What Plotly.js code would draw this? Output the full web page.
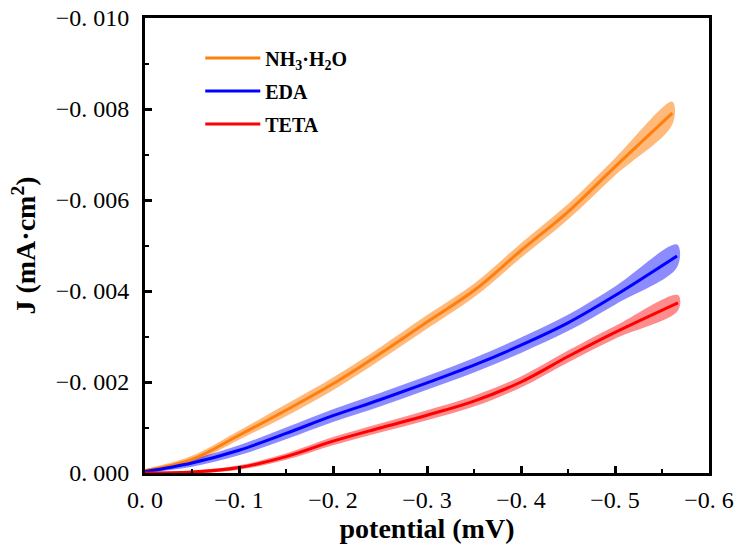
<!DOCTYPE html>
<html>
<head>
<meta charset="utf-8">
<script src="https://cdn.plot.ly/plotly-3.0.1.min.js"></script>
<style>html,body{margin:0;padding:0;background:#fff;}#chart{width:739px;height:550px;}</style>
</head>
<body>
<div id="chart"></div>
<script>
// Potential (mV) and current density J (mA·cm²)
var seriesNames = ["NH<sub>3</sub>·H<sub>2</sub>O", "EDA", "TETA"];

var xNH3 = [0, -0.05, -0.1, -0.15, -0.2, -0.25, -0.3, -0.35, -0.4, -0.45, -0.5, -0.561];
var jNH3 = [-0.00005, -0.0003, -0.00083, -0.00138, -0.00196, -0.00262, -0.00332, -0.00401, -0.00489, -0.00574, -0.00673, -0.00791];
var eNH3 = [0.00004, 0.00008, 0.0001, 0.00013, 0.00014, 0.00014, 0.00015, 0.00015, 0.00016, 0.00017, 0.00019, 0.00025];

var xEDA = [0, -0.05, -0.1, -0.15, -0.2, -0.25, -0.3, -0.35, -0.4, -0.45, -0.5, -0.566];
var jEDA = [-0.00003, -0.00022, -0.0005, -0.00087, -0.00126, -0.00161, -0.00198, -0.00237, -0.00281, -0.0033, -0.0039, -0.00477];
var eEDA = [0.00003, 0.00008, 0.00011, 0.00013, 0.00014, 0.00015, 0.00015, 0.00016, 0.00017, 0.00018, 0.0002, 0.00025];

var xTETA = [0, -0.05, -0.1, -0.15, -0.2, -0.25, -0.3, -0.35, -0.4, -0.45, -0.5, -0.567];
var jTETA = [0, -0.00002, -0.00012, -0.00036, -0.0007, -0.00099, -0.00127, -0.00158, -0.002, -0.00256, -0.00309, -0.00374];
var eTETA = [0.00001, 0.00003, 0.00005, 0.00007, 0.00009, 0.0001, 0.00011, 0.00012, 0.00012, 0.00013, 0.00014, 0.00017];

var xTickVals = [0, -0.1, -0.2, -0.3, -0.4, -0.5, -0.6];
var xTickText = ["0. 0", "−0. 1", "−0. 2", "−0. 3", "−0. 4", "−0. 5", "−0. 6"];
var yTickVals = [0, -0.002, -0.004, -0.006, -0.008, -0.010];
var yTickText = ["0. 000", "−0. 002", "−0. 004", "−0. 006", "−0. 008", "−0. 010"];

var lineColors = ["#FF7F0E", "#0000FF", "#FF0000"];
var bandColors = ["rgba(255,127,14,0.55)", "rgba(0,0,255,0.45)", "rgba(255,0,0,0.45)"];

var sets = [[xNH3, jNH3, eNH3], [xEDA, jEDA, eEDA], [xTETA, jTETA, eTETA]];

var traces = [];
sets.forEach(function (s, i) {
  var x = s[0], y = s[1], e = s[2];
  var upper = y.map(function (v, k) { return v - e[k]; });
  var lower = y.map(function (v, k) { return v + e[k]; });
  traces.push({
    type: "scatter", mode: "lines",
    x: x.concat(x.slice().reverse()),
    y: upper.concat(lower.slice().reverse()),
    fill: "toself", fillcolor: bandColors[i],
    line: {width: 0, color: bandColors[i], shape: "spline", smoothing: 1},
    showlegend: false, hoverinfo: "skip"
  });
});
sets.forEach(function (s, i) {
  traces.push({
    type: "scatter", mode: "lines",
    x: s[0], y: s[1], name: seriesNames[i],
    legendgroup: "g" + i,
    line: {color: lineColors[i], width: 3, shape: "spline", smoothing: 1}
  });
});

var tickFont = {family: "Liberation Serif, Times New Roman, serif", size: 24, color: "#000"};
var titleFont = {family: "Liberation Serif, Times New Roman, serif", size: 28, color: "#000", weight: "bold"};

var layout = {
  width: 739, height: 550,
  margin: {l: 145, r: 30, t: 18, b: 77},
  paper_bgcolor: "#fff", plot_bgcolor: "#fff",
  showlegend: true,
  legend: {
    x: 0.098, y: 0.955, xanchor: "left", yanchor: "top",
    bgcolor: "rgba(0,0,0,0)", borderwidth: 0,
    font: {family: "Liberation Serif, Times New Roman, serif", size: 20, color: "#000", weight: "bold"},
    tracegroupgap: 4, itemwidth: 55, traceorder: "grouped"
  },
  xaxis: {
    range: [0, -0.6], autorange: false,
    tickmode: "array", tickvals: xTickVals, ticktext: xTickText,
    ticks: "inside", ticklen: 7, tickwidth: 3, tickcolor: "#000",
    minor: {ticks: "inside", ticklen: 4, tickwidth: 2, dtick: 0.05, tick0: 0, tickcolor: "#000", showgrid: false},
    showline: true, linewidth: 3, linecolor: "#000", mirror: true,
    showgrid: false, zeroline: false,
    tickfont: tickFont, ticklabelstandoff: 3,
    title: {text: "potential (mV)", font: titleFont, standoff: 4}
  },
  yaxis: {
    range: [0, -0.010], autorange: false,
    tickmode: "array", tickvals: yTickVals, ticktext: yTickText,
    ticks: "inside", ticklen: 7, tickwidth: 3, tickcolor: "#000",
    minor: {ticks: "inside", ticklen: 4, tickwidth: 2, dtick: 0.001, tick0: 0, tickcolor: "#000", showgrid: false},
    showline: true, linewidth: 3, linecolor: "#000", mirror: true,
    showgrid: false, zeroline: false,
    tickfont: tickFont, ticklabelstandoff: 8,
    title: {text: "J (mA·cm<sup>2</sup>)", font: titleFont, standoff: 12}
  }
};

Plotly.newPlot("chart", traces, layout, {displayModeBar: false, staticPlot: true});
</script>
</body>
</html>
